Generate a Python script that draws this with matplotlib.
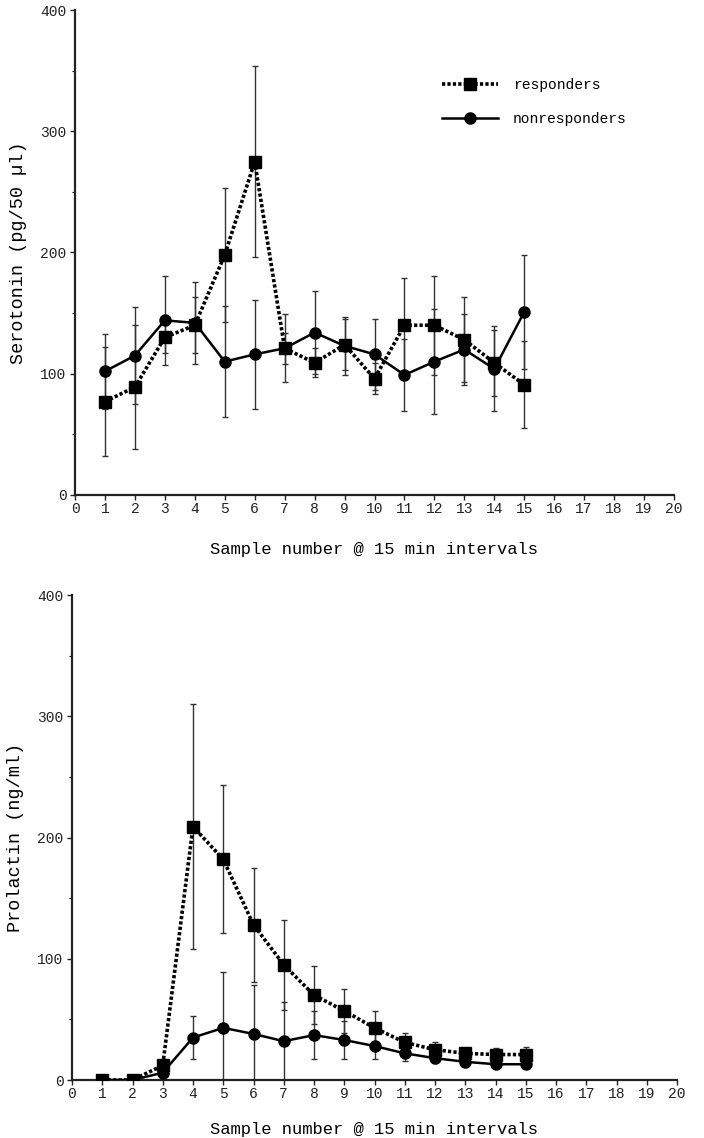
import matplotlib
matplotlib.use("Agg")
import matplotlib.pyplot as plt
import numpy as np
from matplotlib.ticker import MultipleLocator

plt.rcParams['font.family'] = ['Liberation Mono', 'DejaVu Sans Mono']

samples = list(range(1, 16))

# Serotonin (pg/50 µl)
sero_resp = [77, 89, 130, 140, 198, 275, 121, 109, 124, 96, 140, 140, 128, 109, 91]
sero_resp_err = [45, 51, 13, 23, 55, 79, 28, 12, 21, 13, 39, 41, 35, 27, 36]
sero_non = [102, 115, 144, 142, 110, 116, 121, 134, 123, 116, 99, 110, 120, 104, 151]
sero_non_err = [31, 40, 37, 34, 46, 45, 13, 34, 24, 29, 30, 43, 29, 35, 47]

# Prolactin (ng/ml)
prl_resp = [0, 0, 12, 209, 182, 128, 95, 70, 57, 43, 31, 25, 22, 21, 21]
prl_resp_err = [0, 0, 3, 101, 61, 47, 37, 24, 18, 14, 8, 6, 4, 5, 6]
prl_non = [0, 0, 6, 35, 43, 38, 32, 37, 33, 28, 22, 18, 15, 13, 13]
prl_non_err = [0, 0, 3, 18, 46, 40, 32, 20, 16, 11, 6, 4, 2, 2, 1]

xticks = list(range(0, 21))
yticks = [0, 100, 200, 300, 400]
xlabel = "Sample number @ 15 min intervals"

fig = plt.figure(figsize=(7.04, 11.38), dpi=100)
ax1 = fig.add_axes([75/704, 1 - 495/1138, 599/704, 485/1138])
ax2 = fig.add_axes([72/704, 1 - 1080/1138, 605/704, 485/1138])

ecol = '#333333'

def draw(ax, resp, resp_err, non, non_err, ylabel, legend=False):
    ax.errorbar(samples, resp, yerr=resp_err, fmt='none', ecolor=ecol,
                elinewidth=1.0, capsize=2, capthick=1.0, zorder=2)
    ax.errorbar(samples, non, yerr=non_err, fmt='none', ecolor=ecol,
                elinewidth=1.0, capsize=2, capthick=1.0, zorder=2)
    ax.plot(samples, resp, linestyle=(0, (0.9, 0.6)), linewidth=2.6, color='black',
            marker='s', markersize=8, markerfacecolor='black', markeredgecolor='black',
            label='responders', zorder=3)
    ax.plot(samples, non, linestyle='-', linewidth=1.8, color='black',
            marker='o', markersize=8, markerfacecolor='black', markeredgecolor='black',
            label='nonresponders', zorder=4)
    ax.set_xlim(0, 20)
    ax.set_ylim(0, 400)
    ax.set_xticks(xticks)
    ax.set_yticks(yticks)
    ax.yaxis.set_minor_locator(MultipleLocator(50))
    for s in ['top', 'right']:
        ax.spines[s].set_visible(False)
    for s in ['left', 'bottom']:
        ax.spines[s].set_linewidth(1.6)
        ax.spines[s].set_color('#222222')
    ax.tick_params(axis='both', which='major', direction='out', length=3.5, width=1,
                   labelsize=10.5, colors='#222222', pad=1.5)
    ax.tick_params(axis='y', which='minor', direction='out', length=2.5, width=0.8)
    ax.tick_params(axis='y', which='major', pad=2.5)
    ax.set_xlabel(xlabel, fontsize=12.3)
    ax.set_ylabel(ylabel, fontsize=13.3, labelpad=10)
    if legend:
        ax.legend(loc='upper left', bbox_to_anchor=(0.59, 0.887), frameon=False,
                  handlelength=3.9, labelspacing=1.35, handletextpad=1.0,
                  fontsize=10.5)

draw(ax1, sero_resp, sero_resp_err, sero_non, sero_non_err,
     "Serotonin (pg/50 µl)", legend=True)
ax1.xaxis.labelpad = 18.5
draw(ax2, prl_resp, prl_resp_err, prl_non, prl_non_err, "Prolactin (ng/ml)")
ax2.xaxis.labelpad = 15

fig.savefig("out.png", dpi=100)
